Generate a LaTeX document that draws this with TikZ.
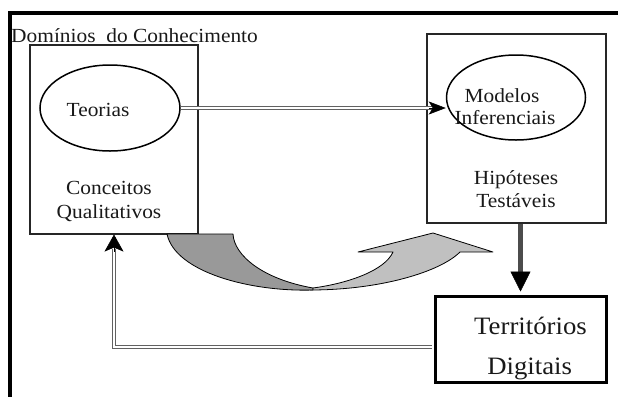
\documentclass[tikz,border=0pt]{standalone}
\usepackage{fontspec}
\setmainfont{Liberation Serif}[FakeStretch=1.07]
\usetikzlibrary{arrows.meta,shapes.geometric,calc}
\definecolor{darkfill}{HTML}{999999}
\definecolor{lightfill}{HTML}{C0C0C0}
\begin{document}
\begin{tikzpicture}[x=1pt,y=-1pt,
  framestyle/.style={line width=3.5pt, black},
  boxstyle/.style={draw=black!85, line width=1.1pt, inner sep=0, rectangle},
  ellstyle/.style={ellipse, draw=black, line width=1.5pt, inner sep=0},
  txt/.style={anchor=base, inner sep=0, text=black!90, font=\fontsize{20}{24}\selectfont},
  bigtxt/.style={anchor=base, inner sep=0, text=black!90, font=\fontsize{25}{30}\selectfont},
  dbl/.style={draw=black!62, line width=1.1pt, double=white, double distance=1.1pt},
  tipstyle/.style={line width=0.5pt, black},
  bigarrow/.style={draw=black, line width=0.8pt, line join=round},
]
\useasboundingbox (0,0) rectangle (618,397);
% frame
\draw[framestyle] (8,13) -- (618,13);
\draw[framestyle] (10,11.5) -- (10,397);
\node[txt, anchor=base west] (dominios) at (11,42) {Domínios\ \ do Conhecimento};

% boxes
\node[boxstyle, minimum width=168pt, minimum height=189pt] (lbox) at (114,139.5) {};
\node[boxstyle, minimum width=179pt, minimum height=189pt] (rbox) at (516.5,128.5) {};
\node[boxstyle, draw=black, line width=3pt, minimum width=171pt, minimum height=86pt] (terr) at (520.5,339) {};

% ellipses
\node[ellstyle, minimum width=140pt, minimum height=86pt] (teorias) at (110,108) {};
\node[ellstyle, minimum width=139pt, minimum height=85pt] (modelos) at (516,97.5) {};

% texts
\node[txt] (teoriastxt) at (98,116) {Teorias};
\node[txt] (conc) at (109,194) {Conceitos};
\node[txt] (qual) at (109,218) {Qualitativos};
\node[txt] (mod) at (502,102) {Modelos};
\node[txt] (inf) at (505,124) {Inferenciais};
\node[txt] (hip) at (516,184) {Hipóteses};
\node[txt] (test) at (516,207) {Testáveis};
\node[bigtxt] (territ) at (530.5,334) {Territórios};
\node[bigtxt] (digit) at (529.7,374) {Digitais};

% curved arrows
\fill[lightfill] (310,290) .. controls (380,290) and (440,272) .. (460,252)
  -- (493,252) -- (433,233) -- (358,252) -- (393,252)
  .. controls (385,270) and (350,283) .. (313,288) -- cycle;
\draw[bigarrow] (310,290) .. controls (380,290) and (440,272) .. (460,252)
  -- (493,252) -- (433,233) -- (358,252) -- (393,252)
  .. controls (385,270) and (350,283) .. (313,288);
\filldraw[bigarrow, fill=darkfill] (167,234) -- (233,234)
  .. controls (234,255) and (262,279) .. (313,288)
  -- (313,290) .. controls (250,292) and (175,272) .. (167,234) -- cycle;

% Teorias -> Modelos
\draw[dbl] (teorias.east) -- ($(teorias.east -| modelos.west)+(-12,0)$);
\draw[tipstyle, -{Stealth[length=17pt,width=13pt,inset=4pt]}] ($(teorias.east -| modelos.west)+(-17,0)$) -- (teorias.east -| modelos.west);

% Hipoteses -> Territorios
\draw[line width=4.5pt, black!70] (rbox.south -| terr.north) -- ($(terr.north)+(0,-20)$);
\draw[tipstyle, -{Triangle[length=20pt,width=20pt]}] ($(terr.north)+(0,-22)$) -- ($(terr.north)+(0,-3)$);

% Territorios -> Conceitos (feedback)
\coordinate (fbstart) at ($(terr.west)+(-1.5,8)$);
\draw[dbl] (fbstart) -| ($(lbox.south)+(0,14)$);
\draw[tipstyle, -{Stealth[length=17pt,width=19pt,inset=4pt]}] ($(lbox.south)+(0,17)$) -- (lbox.south);
\end{tikzpicture}
\end{document}
